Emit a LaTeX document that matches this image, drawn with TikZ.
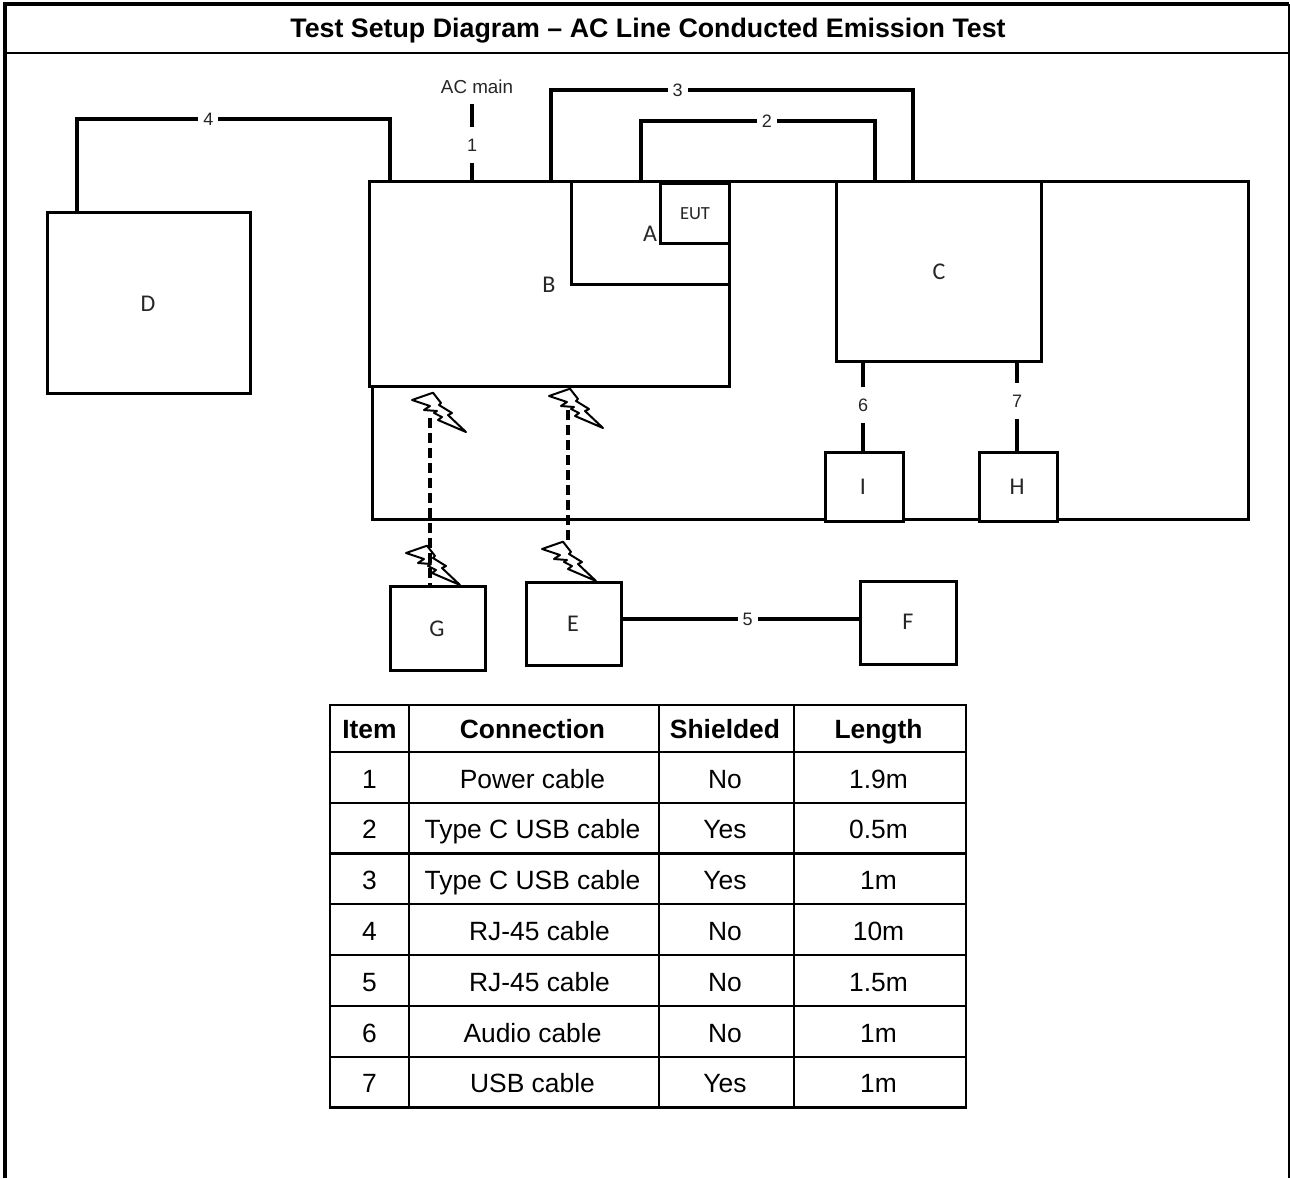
\documentclass[tikz,border=0pt]{standalone}
\usepackage{fontspec}
\setmainfont{Liberation Sans}
\newfontfamily\boxfont{Carlito}
\usetikzlibrary{positioning,calc}
\tikzset{
  bolt/.pic={\draw[line width=2pt,line join=round]
    (0,0) -- (21,-7.3) -- (29,3) -- (27,5) -- (40,13) -- (36,15) -- (54,32)
    -- (26,20) -- (30,17) -- (22,13) -- (25,11) -- (12,10) -- (18,6) -- cycle;}
}
\begin{document}
\begin{tikzpicture}[x=1pt,y=-1pt,
  every node/.style={inner sep=0pt,outer sep=0pt},
  unit/.style={draw=black,line width=3pt,minimum width=#1},
  unit/.default=95pt,
  lab/.style={text=black!85,font=\boxfont\fontsize{24}{26}\selectfont},
  ar/.style={line width=4.3pt,line join=miter},
  num/.style={fill=white,text=black!85,minimum width=20pt,font=\fontsize{18}{20}\selectfont},
  vnum/.style={num,minimum height=36pt},
  cell/.style={draw=black,line width=2.4pt,minimum height=50.6pt,text height=21pt,text depth=0pt,font=\fontsize{26.4}{30}\selectfont},
  hcell/.style={cell,minimum height=47pt,text height=19pt,font=\bfseries\fontsize{26.4}{30}\selectfont},
  lcol/.style={execute at begin node={\hspace*{-3pt}}}]
\useasboundingbox (0,0) rectangle (1290,1178);
% outer frame
\draw[line width=4pt] (5,1178) -- (5,4) -- (1289,4);
\draw[line width=2pt] (1289,4) -- (1289,1178);
\draw[line width=2.4pt] (5,53) -- (1289,53);
\node[font=\bfseries\fontsize{26.8}{30}\selectfont] (title) at (648,31) {Test Setup Diagram – AC Line Conducted Emission Test};
% table top and units
\node[unit=876pt,minimum height=338pt] (bench) at (810,350) {};
\node[unit=360pt,minimum height=205pt,fill=white] (B) at (549,283.5) {};
\node[unit=158pt,minimum height=103pt] (Bin) at (650,232.5) {};
\node[unit=69pt,minimum height=60pt] (A) at (694.5,213) {};
\node[unit=205pt,minimum height=180pt] (C) at (938.5,271) {};
\node[unit=203pt,minimum height=181pt] (D) at (148.5,302.5) {};
\node[unit=78pt,minimum height=69pt,fill=white] (I) at (864,486.5) {};
\node[unit=78pt,minimum height=69pt,fill=white] (H) at (1018,486.5) {};
\node[unit=95pt,minimum height=84pt] (G) at (437.5,628) {};
\node[unit=95pt,minimum height=83pt] (E) at (573.5,623.5) {};
\node[unit=96pt,minimum height=83pt] (F) at (908,622.5) {};
\node[lab] (labA) at (650,234) {A};
\node[lab] (labB) at (549,285) {B};
\node[lab] (labC) at (939,272) {C};
\node[lab] (labD) at (148,304) {D};
\node[lab] (labE) at (573,624) {E};
\node[lab] (labF) at (908,622) {F};
\node[lab] (labG) at (437,629) {G};
\node[lab] (labH) at (1017,487) {H};
\node[lab] (labI) at (863,487) {I};
\node[text=black!85,font=\boxfont\fontsize{18.5}{20}\selectfont] (eut) at (695,214) {EUT};
\node[text=black!85,font=\fontsize{18.8}{20}\selectfont] (acmain) at (477,87) {AC main};
\coordinate (acend) at (472,104);
% cables
\draw[ar] (472,0 |- acend) -- node[vnum,pos=.532] {1} (472,0 |- B.north);
\draw[ar] (551,0 |- B.north) -- (551,90) -- node[num,pos=.35] {3} (913,90) -- (913,0 |- B.north);
\draw[ar] (641,0 |- B.north) -- (641,121) -- node[num,pos=.538] {2} (875,121) -- (875,0 |- B.north);
\draw[ar] (77,0 |- D.north) -- (77,119) -- node[num,pos=.42] {4} (390,119) -- (390,0 |- B.north);
\draw[ar] (E.east |- 0,619) -- node[num,pos=.53] {5} (F.west |- 0,619);
\draw[ar] (863,0 |- C.south) -- node[vnum,pos=.484] {6} (863,0 |- I.north);
\draw[ar] (1017,0 |- C.south) -- node[vnum,pos=.44] {7} (1017,0 |- H.north);
% wireless links
\pic at (412,400) {bolt};
\pic at (549,396) {bolt};
\pic at (406,553) {bolt};
\pic at (542,549) {bolt};
\draw[ar,dash pattern=on 10pt off 5pt] (430,418) -- (430,0 |- G.north);
\draw[ar,dash pattern=on 10pt off 5pt] (568,410) -- (568,543);
% table
\foreach \y/\ti/\tb/\tc/\td in {
  777.5/1/Power cable/No/1.9m,
  828/2/Type C USB cable/Yes/0.5m,
  878.5/3/Type C USB cable/Yes/1m,
  929.5/4/\hspace*{14pt}RJ-45 cable/No/10m,
  980.5/5/\hspace*{14pt}RJ-45 cable/No/1.5m,
  1031.5/6/Audio cable/No/1m,
  1082/7/USB cable/Yes/1m}{
  \node[cell,minimum width=79pt] (i\ti) at (369.5,\y) {\ti};
  \node[cell,lcol,minimum width=250pt] (c\ti) at (534,\y) {\tb};
  \node[cell,lcol,minimum width=135pt] (s\ti) at (726.5,\y) {\tc};
  \node[cell,lcol,minimum width=172pt] (l\ti) at (880,\y) {\td};
}
\node[hcell,minimum width=79pt] (hi) at (369.5,728.5) {Item};
\node[hcell,lcol,minimum width=250pt] (hc) at (534,728.5) {Connection};
\node[hcell,lcol,minimum width=135pt] (hs) at (726.5,728.5) {Shielded};
\node[hcell,lcol,minimum width=172pt] (hl) at (880,728.5) {Length};
\end{tikzpicture}
\end{document}
